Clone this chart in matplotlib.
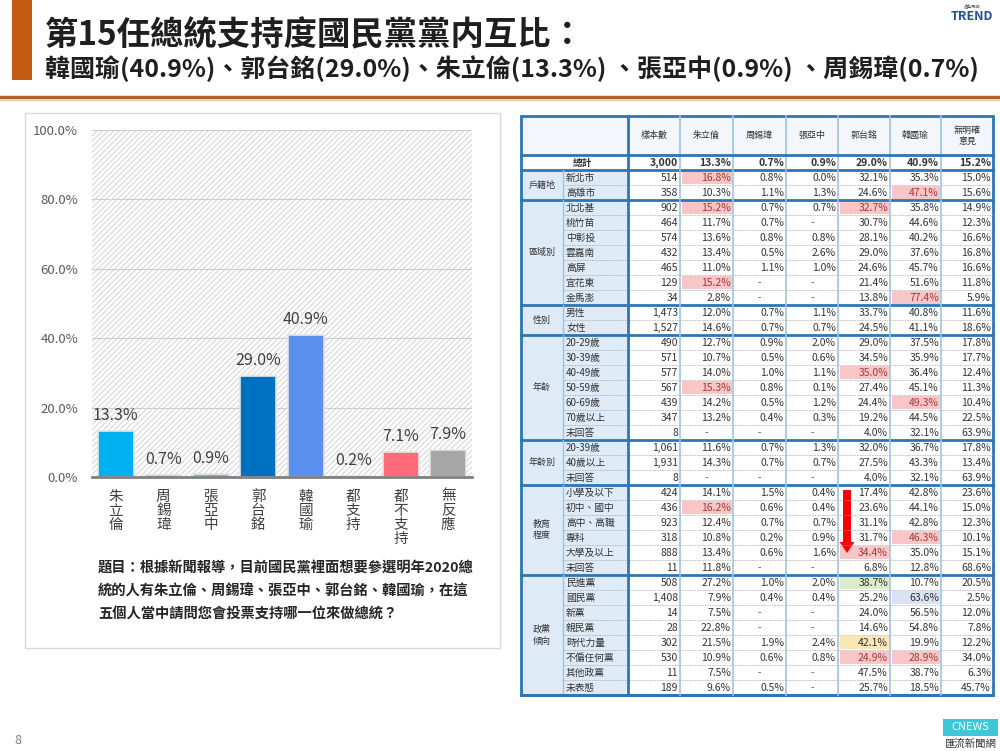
import numpy as np
import matplotlib
matplotlib.use("Agg")
import matplotlib.pyplot as plt
from matplotlib.patches import Rectangle, FancyArrow

plt.rcParams['font.family'] = ['Noto Sans CJK TC', 'DejaVu Sans']
plt.rcParams['hatch.linewidth'] = 0.7

# ---- bar chart data ----
candidates = ['朱立倫', '周錫瑋', '張亞中', '郭台銘', '韓國瑜', '都支持', '都不支持', '無反應']
support = [13.3, 0.7, 0.9, 29.0, 40.9, 0.2, 7.1, 7.9]
bar_colors = ['#00B0F0', '#4472C4', '#8FAADC', '#0070C0', '#5B8FF0', '#7F7F7F', '#FF6B78', '#A6A6A6']

# ---- crosstab data ----
table_cols = ['樣本數', '朱立倫', '周錫瑋', '張亞中', '郭台銘', '韓國瑜', '無明確\n意見']
groups = ['', '戶籍地', '區域別', '性別', '年齡', '年齡別', '教育\n程度', '政黨\n傾向']
group_sizes = [1, 2, 7, 2, 7, 3, 6, 8]
row_labels = ['總計', '新北市', '高雄市',
              '北北基', '桃竹苗', '中彰投', '雲嘉南', '高屏', '宜花東', '金馬澎',
              '男性', '女性',
              '20-29歲', '30-39歲', '40-49歲', '50-59歲', '60-69歲', '70歲以上', '未回答',
              '20-39歲', '40歲以上', '未回答',
              '小學及以下', '初中、國中', '高中、高職', '專科', '大學及以上', '未回答',
              '民進黨', '國民黨', '新黨', '親民黨', '時代力量', '不偏任何黨', '其他政黨', '未表態']
nan = np.nan
samples = [3000, 514, 358, 902, 464, 574, 432, 465, 129, 34, 1473, 1527,
           490, 571, 577, 567, 439, 347, 8, 1061, 1931, 8,
           424, 436, 923, 318, 888, 11, 508, 1408, 14, 28, 302, 530, 11, 189]
zhu = [13.3, 16.8, 10.3, 15.2, 11.7, 13.6, 13.4, 11.0, 15.2, 2.8, 12.0, 14.6,
       12.7, 10.7, 14.0, 15.3, 14.2, 13.2, nan, 11.6, 14.3, nan,
       14.1, 16.2, 12.4, 10.8, 13.4, 11.8, 27.2, 7.9, 7.5, 22.8, 21.5, 10.9, 7.5, 9.6]
zhou = [0.7, 0.8, 1.1, 0.7, 0.7, 0.8, 0.5, 1.1, nan, nan, 0.7, 0.7,
        0.9, 0.5, 1.0, 0.8, 0.5, 0.4, nan, 0.7, 0.7, nan,
        1.5, 0.6, 0.7, 0.2, 0.6, nan, 1.0, 0.4, nan, nan, 1.9, 0.6, nan, 0.5]
zhang = [0.9, 0.0, 1.3, 0.7, nan, 0.8, 2.6, 1.0, nan, nan, 1.1, 0.7,
         2.0, 0.6, 1.1, 0.1, 1.2, 0.3, nan, 1.3, 0.7, nan,
         0.4, 0.4, 0.7, 0.9, 1.6, nan, 2.0, 0.4, nan, nan, 2.4, 0.8, nan, nan]
guo = [29.0, 32.1, 24.6, 32.7, 30.7, 28.1, 29.0, 24.6, 21.4, 13.8, 33.7, 24.5,
       29.0, 34.5, 35.0, 27.4, 24.4, 19.2, 4.0, 32.0, 27.5, 4.0,
       17.4, 23.6, 31.1, 31.7, 34.4, 6.8, 38.7, 25.2, 24.0, 14.6, 42.1, 24.9, 47.5, 25.7]
han = [40.9, 35.3, 47.1, 35.8, 44.6, 40.2, 37.6, 45.7, 51.6, 77.4, 40.8, 41.1,
       37.5, 35.9, 36.4, 45.1, 49.3, 44.5, 32.1, 36.7, 43.3, 32.1,
       42.8, 44.1, 42.8, 46.3, 35.0, 12.8, 10.7, 63.6, 56.5, 54.8, 19.9, 28.9, 38.7, 18.5]
no_opinion = [15.2, 15.0, 15.6, 14.9, 12.3, 16.6, 16.8, 16.6, 11.8, 5.9, 11.6, 18.6,
              17.8, 17.7, 12.4, 11.3, 10.4, 22.5, 63.9, 17.8, 13.4, 63.9,
              23.6, 15.0, 12.3, 10.1, 15.1, 68.6, 20.5, 2.5, 12.0, 7.8, 12.2, 34.0, 6.3, 45.7]

# highlighted cells: (row, column, colour)
PINK, GREEN, BLUE, YELLOW = '#F8C6C6', '#DCEBCB', '#DAE3F3', '#FBE7B5'
highlights = [(1, 1, PINK), (2, 5, PINK), (3, 1, PINK), (3, 4, PINK), (8, 1, PINK),
              (9, 5, PINK), (14, 4, PINK), (15, 1, PINK), (16, 5, PINK), (23, 1, PINK),
              (25, 5, PINK), (26, 4, PINK), (28, 4, GREEN), (29, 5, BLUE),
              (32, 4, YELLOW), (33, 4, PINK), (33, 5, PINK)]

fig = plt.figure(figsize=(10, 7.51), dpi=100)

# slide canvas in pixel coordinates
bg = fig.add_axes([0, 0, 1, 1])
bg.set_xlim(0, 1000)
bg.set_ylim(751, 0)
bg.axis('off')

# header
bg.add_patch(Rectangle((12, 0), 20, 80, color='#C55A11', lw=0))
bg.text(45, 36, '第15任總統支持度國民黨黨内互比：', fontsize=24, fontweight='bold',
        color='#1F1F1F', va='center', ha='left')
bg.text(45, 69, '韓國瑜(40.9%)、郭台銘(29.0%)、朱立倫(13.3%) 、張亞中(0.9%) 、周錫瑋(0.7%)',
        fontsize=18, fontweight='bold', color='#1F1F1F', va='center', ha='left')
bg.plot([0, 1000], [97, 97], color='#B0622A', lw=2.5)
bg.plot([0, 1000], [100, 100], color='#E6CDB8', lw=1)
bg.text(972, 16, 'TREND', fontsize=9, fontweight='bold', fontstyle='italic',
        color='#1F4E9A', ha='center', va='center')
bg.text(972, 6, '趨勢民調', fontsize=3, color='#555555', ha='center', va='center')

# footer
bg.text(14, 741, '8', fontsize=9, color='#7F7F7F', va='center')
bg.add_patch(Rectangle((943, 719), 55, 17, color='#3CC8D8', lw=0))
bg.text(970, 727.5, 'CNEWS', fontsize=8, color='white', ha='center', va='center')
bg.text(970, 744, '匯流新聞網', fontsize=7.5, color='#333333', ha='center', va='center')

# chart panel frame
bg.add_patch(Rectangle((25, 113), 475, 535, fill=False, ec='#D9D9D9', lw=1))

# ---- bar chart ----
ax = fig.add_axes([92 / 1000, (751 - 477) / 751, 380 / 1000, 347 / 751])
x = np.arange(len(candidates))
ax.add_patch(Rectangle((-0.5, 0), 8, 100, facecolor='white', edgecolor='#D2D2D2',
                       hatch='//////', lw=0, zorder=0))
for yv in range(20, 101, 20):
    ax.axhline(yv, color='#CCCCCC', lw=0.8, zorder=1)
bars = ax.bar(x, support, width=0.75, color=bar_colors, edgecolor='#E6E6E6', lw=1.2, zorder=2)
for xi, v in zip(x, support):
    ax.annotate(f'{v:.1f}%', (xi, v), xytext=(0, 5), textcoords='offset points',
                ha='center', va='bottom', fontsize=11.5, color='#404040')
ax.set_xlim(-0.5, 7.5)
ax.set_ylim(0, 100)
ax.set_yticks(range(0, 101, 20))
ax.set_yticklabels([f'{v:.1f}%' for v in range(0, 101, 20)], fontsize=9.5, color='#595959')
ax.set_xticks(x)
ax.set_xticklabels(['\n'.join(c) for c in candidates], fontsize=10.5, color='#404040',
                   linespacing=1.0, va='top')
ax.tick_params(length=0)
ax.tick_params(axis='x', pad=9)
ax.tick_params(axis='y', pad=10)
for s in ['top', 'right', 'left']:
    ax.spines[s].set_visible(False)
ax.spines['bottom'].set_color('#808080')
ax.spines['bottom'].set_linewidth(2)
ax.set_facecolor('none')

question = ['題目：根據新聞報導，目前國民黨裡面想要參選明年2020總',
            '統的人有朱立倫、周錫瑋、張亞中、郭台銘、韓國瑜，在這',
            '五個人當中請問您會投票支持哪一位來做總統？']
for i, line in enumerate(question):
    bg.text(98, 568 + i * 23.5, line, fontsize=10.3, fontweight='bold', color='#262626',
            va='center', ha='left')

# ---- crosstab table ----
col_edges = [521, 563, 628, 680, 733, 786, 838, 890, 941, 993]
head_top, head_bot, row_h = 116, 155, 15
n_rows = len(row_labels)
tab_bot = head_bot + n_rows * row_h
THICK = '#2E75B6'
LIGHT = '#9DC3E6'
CELL_BG = '#DEEAF6'

# header cells
bg.add_patch(Rectangle((col_edges[0], head_top), col_edges[-1] - col_edges[0],
                       head_bot - head_top, facecolor='#F3F7FC', lw=0))
for j, name in enumerate(table_cols):
    cx = (col_edges[j + 2] + col_edges[j + 3]) / 2
    bg.text(cx, (head_top + head_bot) / 2, name, fontsize=6.5, color='#333333',
            ha='center', va='center', linespacing=1.3)

# label backgrounds
bg.add_patch(Rectangle((col_edges[0], head_bot + row_h), col_edges[2] - col_edges[0],
                       tab_bot - head_bot - row_h, facecolor=CELL_BG, lw=0))

data_cols = [samples, zhu, zhou, zhang, guo, han, no_opinion]
for (r, c, colr) in highlights:
    y0 = head_bot + r * row_h
    bg.add_patch(Rectangle((col_edges[c + 2] + 1.5, y0 + 1), col_edges[c + 3] - col_edges[c + 2] - 3,
                           row_h - 2, facecolor=colr, lw=0))

pink_cells = {(r, c) for r, c, colr in highlights if colr == PINK}
for i, lab in enumerate(row_labels):
    yc = head_bot + i * row_h + row_h / 2 + 0.5
    bold = 'bold' if i == 0 else 'normal'
    bg.text(col_edges[1] + 3 if i else col_edges[1] + 10, yc, lab, fontsize=7,
            fontweight=bold, color='#333333', ha='left', va='center')
    for j, col in enumerate(data_cols):
        v = col[i]
        if j == 0:
            s = f'{v:,}'
        elif np.isnan(v):
            s = '-'
        else:
            s = f'{v:.1f}%'
        txt_col = '#A33A3A' if (i, j) in pink_cells else '#333333'
        if s == '-':
            bg.text((col_edges[j + 2] + col_edges[j + 3]) / 2, yc, s, fontsize=7,
                    color='#555555', ha='center', va='center')
        else:
            bg.text(col_edges[j + 3] - 2, yc, s, fontsize=7.5, fontweight=bold,
                    color=txt_col, ha='right', va='center')

# group labels and lines
start = 0
for g, n in zip(groups, group_sizes):
    y0 = head_bot + start * row_h
    y1 = y0 + n * row_h
    if g:
        bg.text((col_edges[0] + col_edges[1]) / 2, (y0 + y1) / 2, g, fontsize=6.5,
                color='#333333', ha='center', va='center', linespacing=1.4)
        bg.plot([col_edges[1], col_edges[1]], [y0, y1], color=LIGHT, lw=1)
    for k in range(1, n):
        yy = y0 + k * row_h
        bg.plot([col_edges[1], col_edges[-1]], [yy, yy], color='#A6A6A6', lw=0.6, ls=(0, (1, 1)))
    bg.plot([col_edges[0], col_edges[-1]], [y1, y1], color=THICK, lw=2)
    start += n

for xe in col_edges[3:-1]:
    bg.plot([xe, xe], [head_top, tab_bot], color=LIGHT, lw=1.2)
bg.plot([col_edges[2], col_edges[2]], [head_top, tab_bot], color=THICK, lw=2)
bg.plot([col_edges[0], col_edges[-1]], [head_bot, head_bot], color=THICK, lw=2)
bg.add_patch(Rectangle((col_edges[0], head_top), col_edges[-1] - col_edges[0],
                       tab_bot - head_top, fill=False, ec=THICK, lw=2))

# red arrow
bg.add_patch(FancyArrow(847, 490, 0, 63, width=8, head_width=15, head_length=11,
                        length_includes_head=True, color='#FF0000', lw=0))

fig.savefig('out.png', dpi=100)
